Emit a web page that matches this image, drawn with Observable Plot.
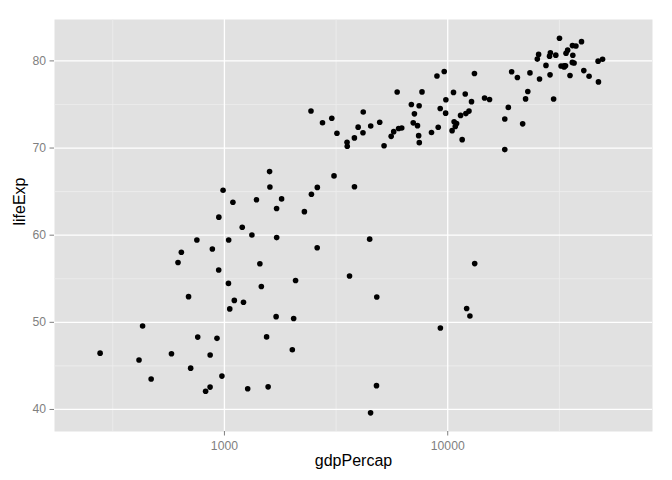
<!DOCTYPE html>
<html>
<head>
<meta charset="utf-8">
<script src="https://cdn.jsdelivr.net/npm/d3@7"></script>
<script src="https://cdn.jsdelivr.net/npm/@observablehq/plot@0.6"></script>
<style>
  html, body { margin: 0; padding: 0; background: #ffffff; }
  #chart { width: 672px; height: 480px; }
</style>
</head>
<body>
<div id="chart"></div>
<script>
// Gapminder-style data (one value per country)
const gdpPercap = [
  974.58, 5937.03, 6223.37, 4797.23, 12779.38, 34435.37, 36126.49, 29796.05, 1391.25, 33692.61,
  1441.28, 3822.14, 7446.30, 12569.85, 9065.80, 10680.79, 1217.03, 430.07, 1713.78, 2042.10,
  36319.24, 706.02, 1704.06, 13171.64, 4959.11, 7006.58, 986.15, 277.55, 3632.56, 9645.06,
  1544.75, 14619.22, 8948.10, 22833.31, 35278.42, 2082.48, 6025.37, 6873.26, 5581.18, 5728.35,
  12154.09, 641.37, 690.81, 33207.08, 30470.02, 13206.48, 752.75, 32170.37, 1327.61, 27538.41,
  5186.05, 942.65, 579.23, 1201.64, 3548.33, 39724.98, 18008.94, 36180.79, 2452.21, 3540.65,
  11605.71, 4471.06, 40675.99, 25523.28, 28569.72, 7320.88, 31656.07, 4519.46, 1463.25, 1593.07,
  23348.14, 47306.99, 10461.06, 1569.33, 414.51, 12057.50, 1044.77, 759.35, 12451.66, 1042.58,
  1803.15, 10956.99, 11977.57, 3095.77, 9253.90, 3820.18, 823.69, 944.00, 4811.06, 1091.36,
  36797.93, 25185.01, 2749.32, 619.68, 2013.98, 49357.19, 22316.19, 2605.95, 9809.19, 4172.84,
  7408.91, 3190.48, 15389.92, 20509.65, 19328.71, 7670.12, 10808.48, 863.09, 1598.44, 21654.83,
  1712.47, 9786.53, 862.54, 47143.18, 18678.31, 25768.26, 926.14, 9269.66, 28821.06, 3970.10,
  2602.39, 4513.48, 33859.75, 37506.42, 4184.55, 28718.28, 1107.48, 7458.40, 882.97, 18008.51,
  7092.92, 8458.28, 1056.38, 33203.26, 42951.65, 10611.46, 11415.81, 2441.58, 3025.35, 2280.77,
  1271.21, 469.71
];
const lifeExp = [
  43.828, 76.423, 72.301, 42.731, 75.320, 81.235, 79.829, 75.635, 64.062, 79.441,
  56.728, 65.554, 74.852, 50.728, 72.390, 73.005, 52.295, 49.580, 59.723, 50.430,
  80.653, 44.741, 50.651, 78.553, 72.961, 72.889, 65.152, 46.462, 55.322, 78.782,
  48.328, 75.748, 78.273, 76.486, 78.332, 54.791, 72.235, 74.994, 71.338, 71.878,
  51.579, 58.040, 52.947, 79.313, 80.657, 56.735, 59.448, 79.406, 60.022, 79.483,
  70.259, 56.007, 46.388, 60.916, 70.198, 82.208, 73.338, 81.757, 64.698, 70.650,
  70.964, 59.545, 78.885, 80.745, 80.546, 72.567, 82.603, 72.535, 54.110, 67.297,
  78.623, 77.588, 71.993, 42.592, 45.678, 73.952, 59.443, 48.303, 74.241, 54.467,
  64.164, 72.801, 76.195, 66.803, 74.543, 71.164, 42.082, 62.069, 52.906, 63.785,
  79.762, 80.204, 72.899, 56.867, 46.859, 80.196, 75.640, 65.483, 75.537, 71.752,
  71.421, 71.688, 75.563, 78.098, 78.746, 76.442, 72.476, 46.242, 65.528, 72.777,
  63.062, 74.002, 42.568, 79.972, 74.663, 77.926, 48.159, 49.339, 80.941, 72.396,
  58.556, 39.613, 80.884, 81.701, 74.143, 78.400, 52.517, 70.616, 58.420, 69.819,
  73.923, 71.777, 51.542, 79.425, 78.242, 76.384, 73.747, 74.249, 73.422, 62.698,
  42.384, 43.487
];

const xTicks = [1000, 10000];
const xMinor = [316.23, 3162.28, 31622.78];
const yTicks = [40, 50, 60, 70, 80];
const yMinor = [45, 55, 65, 75];
const xTitle = "gdpPercap";
const yTitle = "lifeExp";

const data = gdpPercap.map((g, i) => ({gdpPercap: g, lifeExp: lifeExp[i]}));

const chart = Plot.plot({
  width: 672,
  height: 480,
  marginLeft: 54,
  marginRight: 20,
  marginTop: 19,
  marginBottom: 49,
  style: {fontFamily: "'Liberation Sans', Arial, Helvetica, sans-serif", background: "#ffffff"},
  x: {type: "log", domain: [173.4, 82600]},
  y: {domain: [37.47, 84.75]},
  marks: [
    Plot.frame({fill: "#E1E1E1", stroke: null}),
    Plot.gridX(xMinor, {stroke: "#EDEDED", strokeOpacity: 1, strokeWidth: 0.8}),
    Plot.gridY(yMinor, {stroke: "#EDEDED", strokeOpacity: 1, strokeWidth: 0.8}),
    Plot.gridX(xTicks, {stroke: "#ffffff", strokeOpacity: 1, strokeWidth: 1.3}),
    Plot.gridY(yTicks, {stroke: "#ffffff", strokeOpacity: 1, strokeWidth: 1.3}),
    Plot.axisX({ticks: xTicks, tickSize: 4.5, tickPadding: 5, fontSize: 12.2,
      stroke: "#7F7F7F", fill: "#7F7F7F", strokeWidth: 1, label: null,
      tickFormat: d => String(d)}),
    Plot.axisY({ticks: yTicks, tickSize: 4.5, tickPadding: 4, fontSize: 12.2,
      stroke: "#7F7F7F", fill: "#7F7F7F", strokeWidth: 1, label: null,
      tickFormat: d => String(d)}),
    Plot.dot(data, {x: "gdpPercap", y: "lifeExp", r: 2.8, fill: "black", stroke: null}),
    Plot.text([xTitle], {frameAnchor: "bottom", lineAnchor: "middle", dy: 29, fontSize: 16, fill: "black"}),
    Plot.text([yTitle], {frameAnchor: "left", lineAnchor: "middle", dx: -35, rotate: -90, fontSize: 16, fill: "black"})
  ]
});
document.getElementById("chart").appendChild(chart);
</script>
</body>
</html>
